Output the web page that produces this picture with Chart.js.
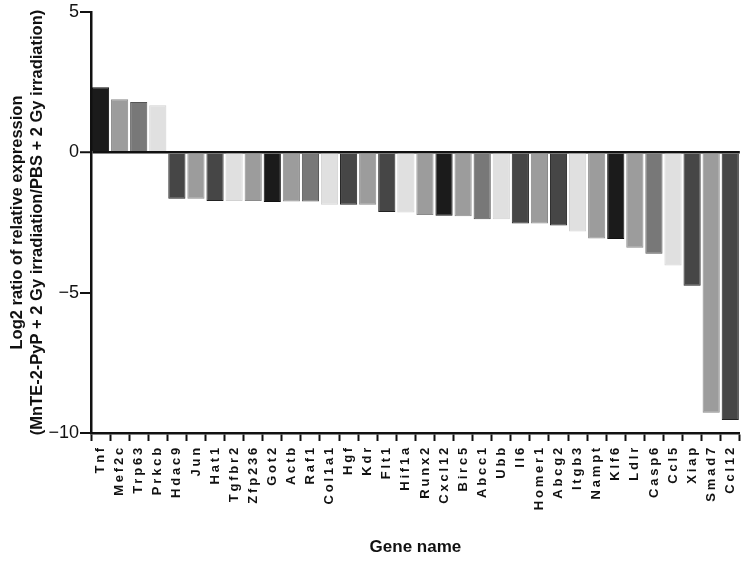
<!DOCTYPE html>
<html>
<head>
<meta charset="utf-8">
<script src="https://cdn.jsdelivr.net/npm/chart.js@4"></script>
<style>
  html, body { margin: 0; padding: 0; background: #fff; }
  #wrap { width: 750px; height: 563px; }
</style>
</head>
<body>
<div id="wrap"><canvas id="chartCanvas" width="750" height="563"></canvas></div>
<script>
const genes = ["Tnf", "Mef2c", "Trp63", "Prkcb", "Hdac9", "Jun", "Hat1", "Tgfbr2", "Zfp236", "Got2",
  "Actb", "Raf1", "Col1a1", "Hgf", "Kdr", "Flt1", "Hif1a", "Runx2", "Cxcl12", "Birc5",
  "Abcc1", "Ubb", "Il6", "Homer1", "Abcg2", "Itgb3", "Nampt", "Klf6", "Ldlr", "Casp6",
  "Ccl5", "Xiap", "Smad7", "Ccl12"];

const log2Ratios = [2.32, 1.89, 1.79, 1.68, -1.65, -1.65, -1.73, -1.73, -1.73, -1.77,
  -1.75, -1.75, -1.87, -1.87, -1.87, -2.13, -2.14, -2.23, -2.26, -2.28,
  -2.38, -2.38, -2.54, -2.54, -2.61, -2.82, -3.07, -3.09, -3.40, -3.61,
  -4.03, -4.75, -9.28, -9.54];

const yTicks = [5, 0, -5, -10];

// grey shade per bar (k = black, d = dark, m = mid, g = grey, l = light)
const shades = ["k", "g", "m", "l", "d", "g", "d", "l", "g", "k",
  "g", "m", "l", "d", "g", "d", "l", "g", "k", "g",
  "m", "l", "d", "g", "d", "l", "g", "k", "g", "m",
  "l", "d", "g", "d"];

const fill = { k: "#1b1b1b", d: "#464646", m: "#787878", g: "#9c9c9c", l: "#e0e0e0" };
const edge = { k: "#111111", d: "#222222", m: "#555555", g: "#8a8a8a", l: "#d2d2d2" };

const letterSpacingX = {
  id: "letterSpacingX",
  afterLayout(chart) {
    const xs = chart.scales.x;
    if (xs._spaced) return;
    const orig = xs.drawLabels.bind(xs);
    xs.drawLabels = function (area) {
      const ctx = chart.ctx;
      ctx.save();
      ctx.letterSpacing = "2.8px";
      orig(area);
      ctx.restore();
    };
    xs._spaced = true;
  }
};

const ctx = document.getElementById("chartCanvas").getContext("2d");
new Chart(ctx, {
  type: "bar",
  data: {
    labels: genes,
    datasets: [{
      data: log2Ratios,
      backgroundColor: shades.map(s => fill[s]),
      borderColor: shades.map(s => edge[s]),
      borderWidth: 1,
      barPercentage: 0.9,
      categoryPercentage: 1.0
    }]
  },
  options: {
    responsive: false,
    animation: false,
    layout: { padding: { top: 12, right: 9, left: 0, bottom: 0 } },
    plugins: { legend: { display: false }, tooltip: { enabled: false } },
    scales: {
      x: {
        grid: { display: true, drawOnChartArea: false, drawTicks: true, tickLength: 8, tickColor: "#111", tickWidth: 2 },
        border: { display: true, color: "#111", width: 2.5 },
        ticks: {
          autoSkip: false, minRotation: 90, maxRotation: 90, padding: 4,
          color: "#111", font: { family: "Liberation Sans, Arial", size: 13, weight: "bold" }
        },
        title: {
          display: true, text: "Gene name", color: "#111",
          font: { family: "Liberation Sans, Arial", size: 17, weight: "bold" },
          padding: { top: 0, bottom: 5 }
        },
        afterFit(scale) { scale.height = 130; }
      },
      y: {
        min: -10, max: 5,
        afterBuildTicks(scale) { scale.ticks = yTicks.map(v => ({ value: v })); },
        grid: {
          drawOnChartArea: true, drawTicks: true, tickLength: 11,
          color: c => (c.tick && c.tick.value === 0 ? "#111" : "rgba(0,0,0,0)"),
          lineWidth: c => (c.tick && c.tick.value === 0 ? 2.5 : 0),
          tickColor: "#111", tickWidth: 2
        },
        border: { display: true, color: "#111", width: 2.5 },
        ticks: {
          color: "#111", padding: 1,
          font: { family: "Liberation Sans, Arial", size: 18 },
          callback: v => (v < 0 ? "\u2212" + Math.abs(v) : String(v))
        },
        title: {
          display: true,
          text: ["Log2 ratio of relative expression", "(MnTE-2-PyP + 2 Gy irradiation/PBS + 2 Gy irradiation)"],
          color: "#111",
          font: { family: "Liberation Sans, Arial", size: 16.5, weight: "bold", lineHeight: 1.25 },
          padding: { top: 7, bottom: 0 }
        },
        afterFit(scale) { scale.width = 91; }
      }
    }
  },
  plugins: [letterSpacingX]
});
</script>
</body>
</html>
